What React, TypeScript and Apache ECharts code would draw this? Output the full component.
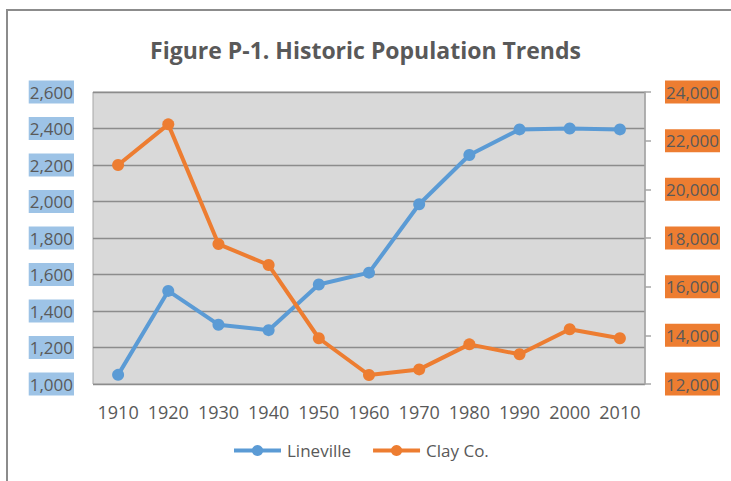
import React, { useEffect, useRef } from "react";
import * as echarts from "echarts";

const years = ["1910", "1920", "1930", "1940", "1950", "1960", "1970", "1980", "1990", "2000", "2010"];
const lineville = [1050, 1510, 1325, 1295, 1545, 1610, 1985, 2255, 2395, 2400, 2395];
const clayCo = [21000, 22670, 17750, 16890, 13880, 12370, 12600, 13630, 13220, 14250, 13880];
const titleText = "Figure P-1. Historic Population Trends";
const seriesNames = ["Lineville", "Clay Co."];

const FONT = "'Open Sans', 'Noto Sans', sans-serif";
const fmt = (v: number) => v.toLocaleString("en-US");

export default function App() {
  const ref = useRef<HTMLDivElement>(null);
  useEffect(() => {
    if (!ref.current) return;
    const chart = echarts.init(ref.current, undefined, { renderer: "svg" });
    chart.setOption({
      animation: false,
      backgroundColor: "#ffffff",
      title: {
        text: titleText,
        left: "center",
        top: 33,
        textStyle: { fontFamily: FONT, fontSize: 23, fontWeight: "bold", color: "#595959" },
      },
      legend: {
        data: seriesNames,
        top: 437,
        left: 227,
        itemWidth: 47,
        itemHeight: 14,
        itemGap: 20,
        lineStyle: { width: 4 },
        textStyle: { fontFamily: FONT, fontSize: 17, color: "#595959", padding: [0, 0, 0, 1] },
      },
      grid: {
        left: 93,
        right: 86,
        top: 92,
        bottom: 97,
        show: true,
        backgroundColor: "#d9d9d9",
        borderColor: "#a6a6a6",
        borderWidth: 1,
      },
      xAxis: {
        type: "category",
        data: years,
        boundaryGap: true,
        axisLine: { show: false },
        axisTick: { show: false },
        axisLabel: { fontFamily: FONT, fontSize: 18, color: "#595959", margin: 19, interval: 0 },
      },
      yAxis: [
        {
          type: "value",
          min: 1000,
          max: 2600,
          interval: 200,
          position: "left",
          axisLine: { show: false },
          axisTick: { show: false },
          splitLine: { show: true, lineStyle: { color: "#8c8c8c", width: 1.3 } },
          axisLabel: {
            fontFamily: FONT,
            fontSize: 17,
            color: "#595959",
            margin: 19,
            formatter: (v: number) => fmt(v),
            backgroundColor: "#9dc3e6",
            padding: [3, 1, 3, 1],
          },
        },
        {
          type: "value",
          min: 12000,
          max: 24000,
          interval: 2000,
          position: "right",
          axisLine: { show: true, lineStyle: { color: "#a6a6a6", width: 1.5 } },
          axisTick: { show: true, length: 6, lineStyle: { color: "#a6a6a6", width: 1.5 } },
          splitLine: { show: false },
          axisLabel: {
            fontFamily: FONT,
            fontSize: 17,
            color: "#595959",
            margin: 20,
            formatter: (v: number) => fmt(v),
            backgroundColor: "#ed7d31",
            padding: [3, 1, 3, 1],
          },
        },
      ],
      series: [
        {
          name: seriesNames[0],
          type: "line",
          data: lineville,
          yAxisIndex: 0,
          symbol: "circle",
          symbolSize: 12,
          itemStyle: { color: "#5b9bd5" },
          lineStyle: { color: "#5b9bd5", width: 4 },
        },
        {
          name: seriesNames[1],
          type: "line",
          data: clayCo,
          yAxisIndex: 1,
          symbol: "circle",
          symbolSize: 12,
          itemStyle: { color: "#ed7d31" },
          lineStyle: { color: "#ed7d31", width: 4 },
        },
      ],
      graphic: [
        {
          type: "rect",
          shape: { x: 7, y: 10, width: 900, height: 700 },
          style: { fill: "none", stroke: "#8c8c8c", lineWidth: 2 },
          silent: true,
        },
      ],
    });
    return () => chart.dispose();
  }, []);
  return (
    <div
      ref={ref}
      style={{ position: "fixed", left: 0, top: 0, width: 731, height: 481 }}
    />
  );
}
